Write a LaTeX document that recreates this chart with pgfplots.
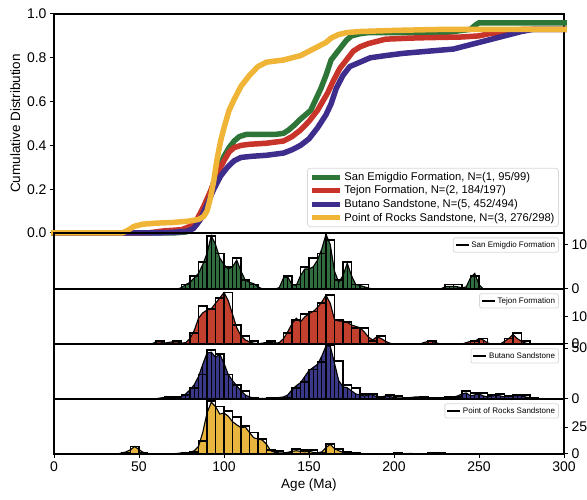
\documentclass[border=0pt]{standalone}
\usepackage{pgfplots}
\usepackage{pgfplotstable}
\pgfplotsset{compat=1.18}
\usepackage{fontspec}
\setmainfont{Liberation Sans}
\definecolor{cgreen}{RGB}{46,118,56}
\definecolor{cred}{RGB}{200,52,42}
\definecolor{cblue}{RGB}{62,45,140}
\definecolor{cyellow}{RGB}{240,180,55}
\definecolor{hgreen}{RGB}{48,108,62}
\definecolor{hred}{RGB}{196,64,46}
\definecolor{hblue}{RGB}{58,56,136}
\definecolor{hyellow}{RGB}{232,182,62}

% ---------- CDF data ----------
\pgfplotstableread{
x y
0 0
70 0
78 0.005
84 0.04
88 0.09
91 0.16
94 0.23
97 0.30
100 0.35
103 0.39
106 0.42
109 0.44
113 0.45
120 0.45
130 0.45
135 0.455
138 0.47
141 0.49
145 0.52
148 0.54
151 0.56
154 0.61
157 0.66
160 0.72
163 0.79
166 0.82
169 0.85
172 0.88
175 0.90
180 0.91
185 0.915
230 0.915
240 0.925
245 0.93
248 0.95
250 0.96
300 0.96
}\cdfA
\pgfplotstableread{
x y
0 0
55 0
60 0.005
65 0.01
75 0.015
80 0.03
84 0.06
88 0.12
92 0.19
96 0.27
100 0.33
103 0.37
106 0.39
110 0.40
115 0.405
125 0.41
135 0.42
140 0.44
145 0.47
150 0.51
155 0.56
158 0.60
161 0.64
164 0.69
168 0.75
172 0.79
176 0.83
180 0.85
185 0.865
190 0.875
195 0.885
210 0.89
220 0.892
240 0.895
250 0.90
256 0.91
265 0.915
270 0.925
276 0.93
300 0.93
}\cdfB
\pgfplotstableread{
x y
0 0
60 0
70 0.003
78 0.008
82 0.02
86 0.06
90 0.13
94 0.20
98 0.26
102 0.30
106 0.33
110 0.345
116 0.35
125 0.355
135 0.365
140 0.38
145 0.40
150 0.43
155 0.48
160 0.54
163 0.59
166 0.66
170 0.72
174 0.76
180 0.78
186 0.80
195 0.81
205 0.82
220 0.83
235 0.84
245 0.86
255 0.88
265 0.90
275 0.92
282 0.93
300 0.93
}\cdfC
\pgfplotstableread{
x y
0 0
40 0.0
43 0.01
47 0.03
52 0.04
60 0.045
70 0.048
80 0.055
85 0.062
88 0.075
90 0.10
92 0.16
94 0.24
96 0.34
98 0.42
100 0.48
103 0.56
106 0.61
110 0.67
115 0.72
120 0.76
125 0.78
130 0.785
135 0.79
140 0.80
145 0.81
150 0.83
155 0.85
160 0.87
163 0.89
167 0.905
172 0.915
180 0.92
200 0.925
230 0.93
300 0.93
}\cdfD

% ---------- KDE / histogram data ----------
\pgfplotstableread{
x y
70 0
72.5 0
75 0.3
77.5 1
80 1.5
82.5 2.5
85 3.5
87.5 5.5
90 8
92.5 12
95 10
97.5 7
100 5.5
102.5 4.5
105 5
107.5 6.5
110 4
112.5 2
115 1.5
117.5 1.2
120 0.5
122.5 0
130 0
132.5 0.3
135 2.5
137.5 2.7
140 1.0
142.5 0.8
145 3
147.5 4.5
150 4.5
152.5 5
155 6.5
157.5 9
160 12.3
162.5 10
165 4
167.5 1.5
170 3
172.5 5.8
175 3
177.5 1
180 0.8
182.5 0.5
185 0.2
187.5 0
227.5 0
230 0.5
232.5 0.6
235 0.6
237.5 0.5
240 0.2
242.5 0.5
245 2.5
247.5 3.5
250 1
252.5 0
}\kdeA
\pgfplotstableread{
x y
70 0
75 1
80 3
85 6
90 12
95 8
100 5
105 7
110 2
115 1
120 0
135 3
140 1
145 5
150 7
155 8
160 11
165 2
170 6
175 1
180 1
185 0
230 1
235 1
240 0
245 3
250 0
}\histA
\pgfplotstableread{
x y
55 0
57.5 0
60 0.8
62.5 0.8
65 0.3
67.5 0.6
70 0.8
72.5 0.8
75 0.3
77.5 0.5
80 2
82.5 5
85 9.5
87.5 11.5
90 12.5
92.5 13
95 15
97.5 17
100 19
102.5 16
105 11
107.5 6
110 3
112.5 1.5
115 0.8
117.5 0.3
120 0.1
122.5 0.3
125 0.6
127.5 0.6
130 0.3
132.5 0.5
135 2
137.5 4.5
140 7.5
142.5 9.5
145 8.2
147.5 10
150 11.2
152.5 12
155 13.5
157.5 15.5
160 18
162.5 15
165 9
167.5 8.5
170 8.5
172.5 8
175 7
177.5 6.5
180 6
182.5 4.5
185 2.5
187.5 1.5
190 2.7
192.5 2
195 1
197.5 0.3
200 0
215 0
217.5 0.5
220 1
222.5 1
225 0.4
227.5 0
240 0
242.5 0.5
245 1
247.5 1
250 2
252.5 1.5
255 0.4
257.5 0
262.5 0
265 1
267.5 2
270 3.5
272.5 2
275 1
277.5 0.3
280 0
}\kdeB
\pgfplotstableread{
x y
55 0
60 1
65 0
70 1
75 0
80 4
85 14
90 13
95 17
100 19
105 7
110 3
115 1
120 0
125 1
130 0
135 4
140 9
145 11
150 12
155 15
160 18
165 9
170 8
175 6
180 6
185 1
190 3
195 0
220 1
225 0
245 1
250 2
255 0
265 2
270 4
275 1
280 0
}\histB
\pgfplotstableread{
x y
57.5 0
60 0.3
62.5 1
65 1.5
67.5 1.5
70 1.5
72.5 1.8
75 2.5
77.5 5
80 9
82.5 14
85 22
87.5 34
90 45
92.5 46
95 41
97.5 44
100 35
102.5 24
105 18
107.5 13
110 8
112.5 4
115 2
117.5 1
120 0.5
122.5 0.5
125 0.5
127.5 0.8
130 1
132.5 1.5
135 2
137.5 4
140 9
142.5 13
145 16
147.5 22
150 28
152.5 31
155 34
157.5 42
160 52
162.5 52
165 35
167.5 18
170 12
172.5 11
175 8
177.5 5
180 4
182.5 3
185 4
187.5 4
190 2
192.5 2
195 3
197.5 2.5
200 1.5
202.5 1
205 1
207.5 1
210 1.5
212.5 2
215 2
217.5 1.5
220 1
222.5 1
225 1
227.5 1.2
230 1.5
232.5 1.8
235 2
237.5 3
240 5
242.5 6
245 3
247.5 4
250 5
252.5 3
255 2
257.5 3
260 4
262.5 3
265 2
267.5 3
270 3
272.5 3
275 3
277.5 2
280 1
282.5 0.3
285 0
}\kdeC
\pgfplotstableread{
x y
60 0
65 2
70 2
75 4
80 11
85 24
90 48
95 44
100 24
105 14
110 8
115 1
120 0
125 1
130 1
135 1
140 11
145 17
150 29
155 36
160 53
165 37
170 14
175 11
180 5
185 5
190 2
195 4
200 3
205 1
210 1
215 2
220 1
225 1
230 2
235 2
240 8
245 6
250 6
255 4
260 5
265 3
270 4
275 4
280 1
285 0
}\histC
\pgfplotstableread{
x y
35 0
37.5 0.2
40 1
42.5 2
45 4
47.5 7
50 4
52.5 1.5
55 0.5
57.5 0.2
60 0.2
62.5 0.2
65 0.2
67.5 0.2
70 0.3
72.5 0.5
75 1
77.5 1
80 1.5
82.5 3
85 7
87.5 20
90 38
92.5 48
95 44
97.5 37
100 38
102.5 35
105 30
107.5 27
110 24.5
112.5 25
115 20
117.5 15
120 14
122.5 13
125 9
127.5 3
130 1.5
132.5 1
135 1
137.5 1.5
140 2.5
142.5 3
145 2.5
147.5 2
150 2.5
152.5 1.5
155 1
157.5 2
160 6
162.5 9
165 5
167.5 3
170 1.5
172.5 1
175 0.5
177.5 0.3
180 0.2
182.5 0
197.5 0
200 0.5
202.5 0.5
205 0.3
207.5 0.3
210 0.5
212.5 0.2
215 0
217.5 0.2
220 0.5
222.5 0.8
225 0.8
227.5 0.5
230 0.3
232.5 0
}\kdeD
\pgfplotstableread{
x y
35 0
40 1
45 7
50 1
55 0
75 1
80 2
85 12
90 49
95 44
100 40
105 34
110 26
115 20
120 14
125 4
130 3
135 1
140 5
145 4
150 4
155 1
160 9
165 5
170 2
175 1
180 0
200 1
205 0
220 1
225 1
230 0
}\histD

\pgfplotsset{
  common/.style={
    scale only axis, width=510pt, xmin=0, xmax=300, ymin=0,
    axis line style={line width=1.4pt},
    every tick/.style={black, line width=1pt},
    major tick length=4pt, tick align=outside,
    tick label style={font=\fontsize{14}{16}\selectfont},
    /pgf/number format/assume math mode=true,
  },
  histax/.style={
    common, height=55pt,
    ytick pos=right, yticklabel pos=right,
    xtick=\empty,
    legend style={at={(rel axis cs:0.99,0.92)}, anchor=north east,
      font=\fontsize{8}{9}\selectfont, draw=black!15, rounded corners=2pt,
      inner sep=1.5pt, line width=0.8pt},
    legend image code/.code={\draw[black, line width=1.6pt] (0pt,0pt) -- (13pt,0pt);},
  },
}

\begin{document}
\begin{tikzpicture}
\path[use as bounding box] (0,0) rectangle (587pt,500pt);

% ---------- CDF panel ----------
\begin{axis}[common, at={(54pt,267pt)}, anchor=south west, height=219pt,
  ymax=1, clip=false, xtick=\empty, ytick={0,0.2,0.4,0.6,0.8,1.0},
  ytick pos=left,
  yticklabel style={/pgf/number format/fixed, /pgf/number format/precision=1,
    /pgf/number format/fixed zerofill},
  ylabel={Cumulative Distribution},
  ylabel style={font=\fontsize{13.5}{16}\selectfont},
  legend cell align=left,
  legend style={at={(rel axis cs:0.99,0.027)}, anchor=south east,
    font=\fontsize{11.2}{13}\selectfont, draw=black!15, rounded corners=3pt,
    fill=white, inner sep=2pt, row sep=0pt, line width=0.8pt},
  legend image code/.code={\draw[#1, line width=5pt, line cap=butt] (0pt,0pt) -- (28pt,0pt);},
]
\addplot[cgreen, line width=5.5pt, line cap=rect, line join=round] table {\cdfA};
\addlegendentry{San Emigdio Formation, N=(1, 95/99)}
\addplot[cred, line width=5.5pt, line cap=rect, line join=round] table {\cdfB};
\addlegendentry{Tejon Formation, N=(2, 184/197)}
\addplot[cblue, line width=5.5pt, line cap=rect, line join=round] table {\cdfC};
\addlegendentry{Butano Sandstone, N=(5, 452/494)}
\addplot[cyellow, line width=5.5pt, line cap=rect, line join=round] table {\cdfD};
\addlegendentry{Point of Rocks Sandstone, N=(3, 276/298)}
\end{axis}

% ---------- Panel 1 ----------
\begin{axis}[histax, at={(54pt,211pt)}, anchor=south west, height=56pt,
  ymax=12.6, ytick={0,10}]
\addplot[fill=hgreen, draw=black, line width=1.1pt, forget plot] table {\kdeA} \closedcycle;
\addplot[ycomb, black, line width=1.3pt, forget plot] table {\kdeA};
\addplot[ybar interval, draw=black, fill=none, line width=1.8pt, forget plot] table {\histA};
\addlegendimage{black}
\addlegendentry{San Emigdio Formation}
\end{axis}

% ---------- Panel 2 ----------
\begin{axis}[histax, at={(54pt,156pt)}, anchor=south west,
  ymax=20.3, ytick={0,10}]
\addplot[fill=hred, draw=black, line width=1.1pt, forget plot] table {\kdeB} \closedcycle;
\addplot[ycomb, black, line width=1.3pt, forget plot, each nth point=2] table {\kdeB};
\addplot[ybar interval, draw=black, fill=none, line width=1.8pt, forget plot] table {\histB};
\addlegendimage{black}
\addlegendentry{Tejon Formation}
\end{axis}

% ---------- Panel 3 ----------
\begin{axis}[histax, at={(54pt,101pt)}, anchor=south west,
  ymax=54, ytick={0,50}]
\addplot[fill=hblue, draw=black, line width=1.1pt, forget plot] table {\kdeC} \closedcycle;
\addplot[ycomb, black, line width=1.3pt, forget plot] table {\kdeC};
\addplot[ybar interval, draw=black, fill=none, line width=1.8pt, forget plot] table {\histC};
\addlegendimage{black}
\addlegendentry{Butano Sandstone}
\end{axis}

% ---------- Panel 4 ----------
\begin{axis}[histax, at={(54pt,46pt)}, anchor=south west,
  ymax=51, ytick={0,25},
  xtick={0,50,100,150,200,250,300}, xtick pos=bottom,
  xlabel={Age (Ma)},
  xlabel style={font=\fontsize{13.5}{16}\selectfont}]
\addplot[fill=hyellow, draw=black, line width=1.1pt, forget plot] table {\kdeD} \closedcycle;
\addplot[ycomb, black, line width=1.3pt, forget plot, each nth point=2] table {\kdeD};
\addplot[ybar interval, draw=black, fill=none, line width=1.8pt, forget plot] table {\histD};
\addlegendimage{black}
\addlegendentry{Point of Rocks Sandstone}
\end{axis}
\end{tikzpicture}
\end{document}
